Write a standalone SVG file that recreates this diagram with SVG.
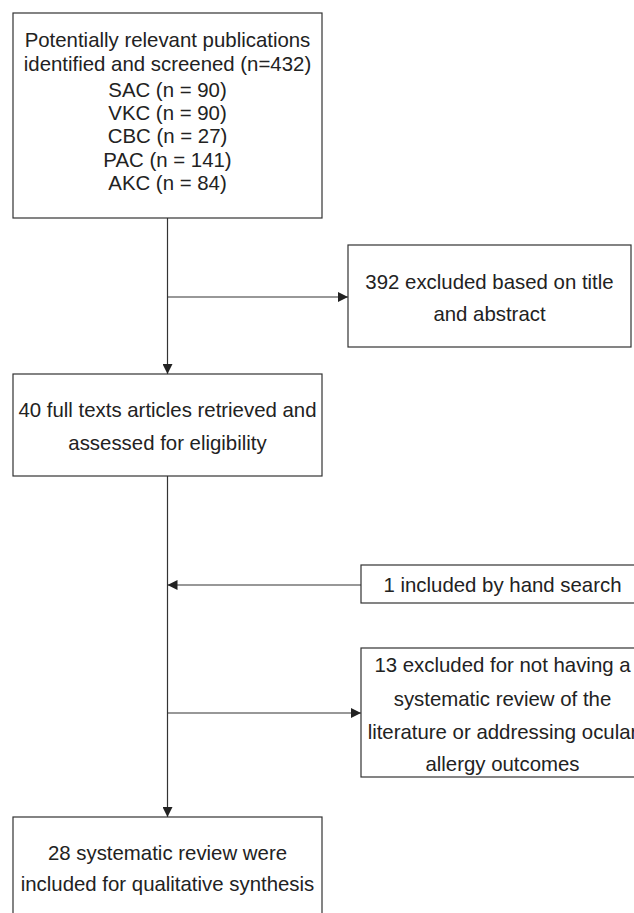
<svg xmlns="http://www.w3.org/2000/svg" width="634" height="913" viewBox="0 0 634 913">
<style>
  .box { fill: #ffffff; stroke: #333333; stroke-width: 1.2; }
  .lbl { font-family: "Liberation Sans", Arial, sans-serif; font-size: 20.4px; fill: #222222; text-anchor: middle; }
  .edge { fill: none; stroke: #333333; stroke-width: 1.2; }
</style>
<defs>
  <marker id="arr" viewBox="0 0 10 10" refX="10" refY="5" markerWidth="10" markerHeight="10" markerUnits="userSpaceOnUse" orient="auto">
    <path d="M0,0 L10,5 L0,10 Z" fill="#222222"/>
  </marker>
</defs>
<rect width="634" height="913" fill="#ffffff"/>
<g id="connectors">
  <line class="edge" x1="167.5" y1="218" x2="167.5" y2="374" marker-end="url(#arr)"/>
  <line class="edge" x1="167.5" y1="297" x2="348" y2="297" marker-end="url(#arr)"/>
  <line class="edge" x1="167.5" y1="476" x2="167.5" y2="817" marker-end="url(#arr)"/>
  <line class="edge" x1="361" y1="585" x2="167.5" y2="585" marker-end="url(#arr)"/>
  <line class="edge" x1="167.5" y1="713" x2="361" y2="713" marker-end="url(#arr)"/>
</g>
<g id="node-identified">
  <rect class="box" x="13" y="13" width="309" height="205"/>
  <text class="lbl" x="167.5" y="47">Potentially relevant publications</text>
  <text class="lbl" x="167.5" y="71">identified and screened (n=432)</text>
  <text class="lbl" x="167.5" y="97">SAC (n = 90)</text>
  <text class="lbl" x="167.5" y="120">VKC (n = 90)</text>
  <text class="lbl" x="167.5" y="143">CBC (n = 27)</text>
  <text class="lbl" x="167.5" y="167">PAC (n = 141)</text>
  <text class="lbl" x="167.5" y="190">AKC (n = 84)</text>
</g>
<g id="node-excluded-title">
  <rect class="box" x="348" y="245" width="283" height="102"/>
  <text class="lbl" x="489.5" y="289">392 excluded based on title</text>
  <text class="lbl" x="489.5" y="321">and abstract</text>
</g>
<g id="node-fulltext">
  <rect class="box" x="13" y="374" width="309" height="102"/>
  <text class="lbl" x="167.5" y="417">40 full texts articles retrieved and</text>
  <text class="lbl" x="167.5" y="450">assessed for eligibility</text>
</g>
<g id="node-handsearch">
  <rect class="box" x="361" y="565" width="283" height="38"/>
  <text class="lbl" x="502.5" y="592">1 included by hand search</text>
</g>
<g id="node-excluded-review">
  <rect class="box" x="361" y="648" width="283" height="129"/>
  <text class="lbl" x="502.5" y="672">13 excluded for not having a</text>
  <text class="lbl" x="502.5" y="706">systematic review of the</text>
  <text class="lbl" x="502.5" y="739">literature or addressing ocular</text>
  <text class="lbl" x="502.5" y="771">allergy outcomes</text>
</g>
<g id="node-included">
  <rect class="box" x="13" y="817" width="309" height="110"/>
  <text class="lbl" x="167.5" y="860">28 systematic review were</text>
  <text class="lbl" x="167.5" y="891">included for qualitative synthesis</text>
</g>
</svg>
